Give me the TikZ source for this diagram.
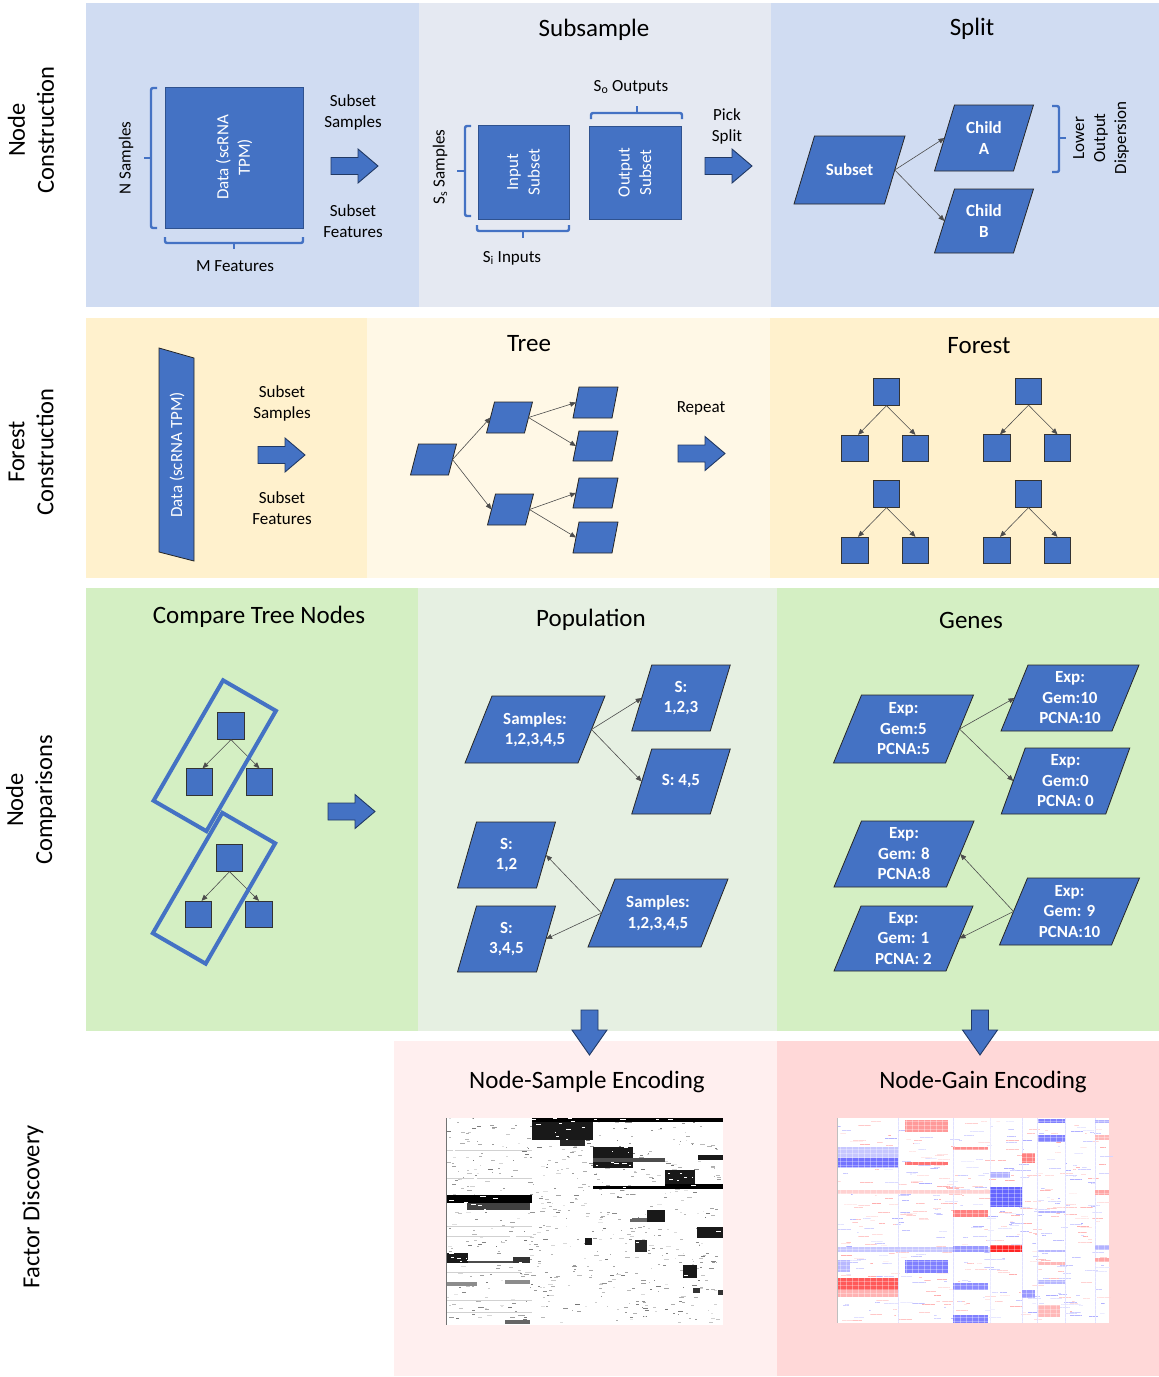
\documentclass[tikz,border=0pt]{standalone}
\usepackage{fontspec}
\setmainfont{Carlito}
\usetikzlibrary{arrows.meta}
\definecolor{nb}{HTML}{4472C4}
\definecolor{nbd}{HTML}{2F528F}
\definecolor{bgA}{HTML}{D0DCF2}
\definecolor{bgB}{HTML}{E5E9F2}
\definecolor{bgC}{HTML}{FFF1CD}
\definecolor{bgD}{HTML}{FFF8E6}
\definecolor{bgE}{HTML}{D4EFC3}
\definecolor{bgF}{HTML}{E6F0E2}
\definecolor{bgG}{HTML}{FFEFEF}
\definecolor{bgH}{HTML}{FFD8D8}
\tikzset{
 lbl/.style={font=\fontsize{17}{21}\selectfont, align=center, inner sep=0pt},
 ttl/.style={font=\fontsize{25}{29}\selectfont, inner sep=0pt},
 side/.style={font=\fontsize{24.5}{29}\selectfont, align=center, rotate=90, inner sep=0pt},
 pshape/.style={fill=nb, draw=black!85, line width=0.8pt},
 ptext/.style={text=white, font=\fontsize{17}{20.5}\selectfont\bfseries, align=center, inner sep=0pt},
 sq/.style={fill=nb, draw=nbd, line width=0.8pt, text=white, align=center, inner sep=0pt, font=\fontsize{17}{21.5}\selectfont},
 fsq/.style={fill=nb, draw=black!80, line width=0.8pt, minimum size=26.5pt, inner sep=0pt},
 conn/.style={draw=black!70, line width=0.6pt, -{Triangle[length=6pt,width=5pt]}},
 brk/.style={draw=nb, line width=2.4pt, rounded corners=2pt},
 barrow/.style={fill=nb, draw=nbd!70!black, line width=0.9pt},
 tilt/.style={draw=nb, line width=4pt, minimum width=61pt, minimum height=139pt, rotate=-30, inner sep=0pt},
 rarrow/.pic={\draw[barrow] (-47,-8.5) -- (-20,-8.5) -- (-20,-17) -- (0,0) -- (-20,17) -- (-20,8.5) -- (-47,8.5) -- cycle;},
 darrow/.pic={\draw[barrow] (-8.5,-45) -- (-8.5,-25) -- (-17.5,-25) -- (0,0) -- (17.5,-25) -- (8.5,-25) -- (8.5,-45) -- cycle;},
}
% name, cx, cy, w, h, slant, text
\newcommand{\pgram}[7]{%
  \draw[pshape] ({#2-#4/2+#6/2},{#3-#5/2}) -- ++(#4,0) -- ++({-#6},#5) -- ++({-#4},0) -- cycle;
  \coordinate (#1-l) at ({#2-#4/2},#3);
  \coordinate (#1-r) at ({#2+#4/2},#3);
  \node[ptext] (#1) at (#2,#3) {#7};
}
\begin{document}
\begin{tikzpicture}[x=1pt,y=-1pt]
\useasboundingbox (0,0) rectangle (1159,1377);
% ---------- backgrounds
\fill[bgA] (86,3) rectangle (419,307);
\fill[bgB] (419,3) rectangle (771,307);
\fill[bgA] (771,3) rectangle (1159,307);
\fill[bgC] (86,318) rectangle (367,578);
\fill[bgD] (367,318) rectangle (770,578);
\fill[bgC] (770,318) rectangle (1159,578);
\fill[bgE] (86,588) rectangle (418,1031);
\fill[bgF] (418,588) rectangle (777,1031);
\fill[bgE] (777,588) rectangle (1159,1031);
\fill[bgG] (394,1041) rectangle (777,1376);
\fill[bgH] (777,1041) rectangle (1159,1376);
% ---------- side labels
\node[side] (s1) at (31,130) {Node\\Construction};
\node[side] (s2) at (31,452) {Forest\\Construction};
\node[side] (s3) at (31,800) {Node\\Comparisons};
\node[side] (s4) at (33,1207) {Factor Discovery};
% ---------- row 1, panel 1
\node[sq, rotate=90, minimum width=141pt, minimum height=138pt] (data) at (234,157.5) {Data (scRNA\\TPM)};
\draw[brk] (157,88) -- (151,88) -- (151,228) -- (157,228);
\draw[brk] (151,158) -- (144,158);
\draw[brk] (165,237) -- (165,243) -- (303,243) -- (303,237);
\draw[brk] (234,243) -- (234,249);
\node[lbl, rotate=90] (nsam) at (126,158) {N Samples};
\node[lbl] (mfeat) at (235,266) {M Features};
\node[lbl] (ss1) at (353,112) {Subset\\Samples};
\node[lbl] (sf1) at (353,221) {Subset\\Features};
\pic at (378,166) {rarrow};
% ---------- row 1, panel 2
\node[ttl] (t1) at (594,30) {Subsample};
\node[sq, rotate=90, minimum width=94pt, minimum height=91pt] (insub) at (523.5,172) {Input\\Subset};
\node[sq, rotate=90, minimum width=93pt, minimum height=92pt] (outsub) at (635,172.5) {Output\\Subset};
\draw[brk] (471,126) -- (465,126) -- (465,216) -- (471,216);
\draw[brk] (465,171) -- (457,171);
\draw[brk] (477,225) -- (477,231) -- (569,231) -- (569,225);
\draw[brk] (523,231) -- (523,238);
\draw[brk] (591,119) -- (591,113) -- (682,113) -- (682,119);
\draw[brk] (637,113) -- (637,106);
\node[lbl] (sout) at (631,87) {S\textsubscript{o} Outputs};
\node[lbl, rotate=90] (ssam) at (440,167) {S\textsubscript{s} Samples};
\node[lbl] (sin) at (512,258) {S\textsubscript{i} Inputs};
\node[lbl] (pick) at (727,126) {Pick\\Split};
\pic at (752,166) {rarrow};
% ---------- row 1, panel 3
\node[ttl] (t2) at (972,29) {Split};
\pgram{sub}{849.5}{170}{90.5}{68}{20.5}{Subset}
\pgram{ca}{984}{138}{79}{66}{20}{Child\\A}
\pgram{cb}{984}{221}{79}{64}{20}{Child\\B}
\draw[conn] (sub-r) -- (ca-l);
\draw[conn] (sub-r) -- (cb-l);
\draw[brk] (1052,106) -- (1059,106) -- (1059,172) -- (1052,172);
\draw[brk] (1059,138) -- (1066,138);
\node[lbl, rotate=90] (lod) at (1101,138) {Lower\\Output\\Dispersion};
% ---------- row 2, panel 1
\draw[pshape] (159,348) -- (194,358) -- (194,561) -- (159,552) -- cycle;
\node[text=white, rotate=90, inner sep=0pt, font=\fontsize{17}{21}\selectfont] (data2) at (177,455) {Data (scRNA TPM)};
\node[lbl] (ss2) at (282,403.5) {Subset\\Samples};
\node[lbl] (sf2) at (282,508) {Subset\\Features};
\pic at (305,455) {rarrow};
% ---------- row 2, panel 2
\node[ttl] (t3) at (529,343.5) {Tree};
\pgram{tr}{433.5}{459.5}{38}{31}{8}{}
\pgram{tu}{509.5}{417.5}{38}{31}{8}{}
\pgram{td}{510.5}{509.5}{38}{31}{8}{}
\pgram{l1}{595.5}{402.5}{39}{31}{6}{}
\pgram{l2}{595.5}{446}{39}{30}{6}{}
\pgram{l3}{595.5}{493}{39}{30}{6}{}
\pgram{l4}{595.5}{537.5}{39}{31}{6}{}
\draw[conn] (tr-r) -- (tu-l);
\draw[conn] (tr-r) -- (td-l);
\draw[conn] (tu-r) -- (l1-l);
\draw[conn] (tu-r) -- (l2-l);
\draw[conn] (td-r) -- (l3-l);
\draw[conn] (td-r) -- (l4-l);
\node[lbl] (rep) at (701,408.5) {Repeat};
\pic at (725,453.5) {rarrow};
% ---------- row 2, panel 3
\node[ttl] (t4) at (979,345.5) {Forest};
\foreach \tx/\ty/\tn in {886.5/392/a, 1028.5/391.5/b, 886.5/494/c, 1028.5/494/d}{
  \node[fsq] (f\tn r) at (\tx,\ty) {};
  \node[fsq] (f\tn l) at ({\tx-31.5},{\ty+56.5}) {};
  \node[fsq] (f\tn g) at ({\tx+29},{\ty+56.5}) {};
  \draw[conn] (f\tn r.south) -- ([xshift=3pt]f\tn l.north);
  \draw[conn] (f\tn r.south) -- (f\tn g.north);
}
% ---------- row 3, panel 1
\node[ttl] (t5) at (259,617) {Compare Tree Nodes};
\node[fsq] (c1r) at (231,726) {};
\node[fsq] (c1l) at (199.5,782) {};
\node[fsq] (c1g) at (259.5,782) {};
\node[fsq] (c2r) at (229.5,858) {};
\node[fsq] (c2l) at (198.5,914.5) {};
\node[fsq] (c2g) at (259,914.5) {};
\draw[conn] (c1r.south) -- ([xshift=3pt]c1l.north);
\draw[conn] (c1r.south) -- (c1g.north);
\draw[conn] (c2r.south) -- ([xshift=3pt]c2l.north);
\draw[conn] (c2r.south) -- (c2g.north);
\node[tilt] (box1) at (214.75,755.75) {};
\node[tilt] (box2) at (214,888.25) {};
\pic at (375,811.5) {rarrow};
% ---------- row 3, panel 2
\node[ttl] (t6) at (591,620) {Population};
\pgram{pa}{535}{729.5}{113}{67}{27}{Samples:\\1,2,3,4,5}
\pgram{pb}{681}{698}{78.5}{66}{20}{S:\\1,2,3}
\pgram{pc}{681}{781.5}{78.5}{65}{20}{S: 4,5}
\pgram{pd}{506.5}{855}{79}{66}{19}{S:\\1,2}
\pgram{pe}{506.5}{939}{79}{66}{19}{S:\\3,4,5}
\pgram{pf}{658}{913}{113}{68}{27}{Samples:\\1,2,3,4,5}
\draw[conn] (pa-r) -- (pb-l);
\draw[conn] (pa-r) -- (pc-l);
\draw[conn] (pf-l) -- (pd-r);
\draw[conn] (pf-l) -- (pe-r);
% ---------- row 3, panel 3
\node[ttl] (t7) at (971,620) {Genes};
\pgram{ga}{903.5}{729}{112}{68}{28}{Exp:\\Gem:5\\PCNA:5}
\pgram{gb}{1070}{698}{111}{66}{27}{Exp:\\Gem:10\\PCNA:10}
\pgram{gc}{1065.5}{781}{104.5}{66}{24}{Exp:\\Gem:0\\PCNA: 0}
\pgram{gd}{904}{854}{112.5}{66}{27.5}{Exp:\\Gem: 8\\PCNA:8}
\pgram{ge}{903.5}{938.5}{112}{65}{27}{Exp:\\Gem: 1\\PCNA: 2}
\pgram{gf}{1069.5}{911.5}{112}{67}{28}{Exp:\\Gem: 9\\PCNA:10}
\draw[conn] (ga-r) -- (gb-l);
\draw[conn] (ga-r) -- (gc-l);
\draw[conn] (gf-l) -- (gd-r);
\draw[conn] (gf-l) -- (ge-r);
% ---------- down arrows
\pic at (589.5,1055) {darrow};
\pic at (980,1055) {darrow};
% ---------- row 4
\node[ttl] (t8) at (587,1082) {Node-Sample Encoding};
\node[ttl] (t9) at (983,1082) {Node-Gain Encoding};
% node-sample heatmap
\fill[white] (446,1118) rectangle (723,1325);
\pgfmathsetseed{11}
\foreach \k in {1,...,650}{
  \pgfmathsetmacro\rx{446+rnd*272}
  \pgfmathtruncatemacro\ry{1118+rnd*205}
  \pgfmathsetmacro\rl{1+rnd*4}
  \pgfmathtruncatemacro\rg{10+rnd*45}
  \fill[black!\rg] (\rx,\ry) rectangle ++(\rl,1);
}
\foreach \yy in {1150,1178,1226,1236,1272,1300,1312}{
  \fill[black!18] (446,\yy) rectangle (532,\yy+0.8);
}
\fill[black] (532,1118) rectangle (723,1121.5);
\fill[black!90] (532,1122) rectangle (593,1140);
\fill[black!85] (560,1140) rectangle (585,1146);
\fill[black!90] (593,1147) rectangle (633,1168);
\fill[black!70] (593,1158) rectangle (665,1162);
\fill[black] (593,1185.5) rectangle (665,1188.5);
\fill[black] (665,1184) rectangle (723,1189);
\fill[black!90] (665,1170) rectangle (695,1184);
\fill[black!90] (698,1155) rectangle (723,1160);
\fill[black] (446,1195) rectangle (532,1203);
\fill[black!75] (467,1203) rectangle (530,1210);
\fill[black!90] (647,1210) rectangle (665,1222);
\fill[black!60] (630,1218) rectangle (647,1222);
\fill[black!90] (697,1227) rectangle (723,1238);
\fill[black!90] (585,1238) rectangle (592,1245);
\fill[black!85] (635,1240) rectangle (647,1252);
\fill[black!90] (446,1253) rectangle (468,1263);
\fill[black!80] (513,1257) rectangle (530,1263);
\fill[black!70] (468,1261) rectangle (513,1262.5);
\fill[black!90] (683,1265) rectangle (697,1278);
\fill[black!80] (693,1288) rectangle (700,1293);
\fill[black!80] (718,1290) rectangle (723,1295);
\fill[black!45] (446,1282) rectangle (477,1286);
\fill[black!45] (505,1280) rectangle (530,1284);
\fill[black!60] (505,1320) rectangle (530,1324);
% white speckle over blocks
\pgfmathsetseed{23}
\foreach \k in {1,...,300}{
  \pgfmathsetmacro\rx{446+rnd*272}
  \pgfmathtruncatemacro\ry{1118+rnd*160}
  \pgfmathsetmacro\rl{1+rnd*5}
  \fill[white] (\rx,\ry) rectangle ++(\rl,0.9);
}
\draw[black!55, line width=0.8pt] (446,1118) -- (446,1325);
% node-gain heatmap
\fill[white] (837,1118) rectangle (1109,1323);
\pgfmathsetseed{5}
\foreach \k in {1,...,260}{
  \pgfmathsetmacro\rx{837+rnd*265}
  \pgfmathtruncatemacro\ry{1118+rnd*203}
  \pgfmathsetmacro\rl{2+rnd*12}
  \pgfmathtruncatemacro\rg{8+rnd*25}
  \fill[red!\rg] (\rx,\ry) rectangle ++(\rl,1);
}
\foreach \k in {1,...,260}{
  \pgfmathsetmacro\rx{837+rnd*265}
  \pgfmathtruncatemacro\ry{1118+rnd*203}
  \pgfmathsetmacro\rl{2+rnd*12}
  \pgfmathtruncatemacro\rg{8+rnd*25}
  \fill[blue!\rg] (\rx,\ry) rectangle ++(\rl,1);
}
\foreach \xx in {898,953,990,1022,1037,1065,1095}{
  \fill[blue!12] (\xx,1118) rectangle (\xx+1,1323);
}
\fill[blue!22] (837,1147) rectangle (898,1168);
\fill[blue!55] (837,1158) rectangle (898,1167);
\fill[red!40] (905,1120) rectangle (948,1132);
\fill[red!55] (905,1162) rectangle (948,1165);
\fill[red!45] (953,1147) rectangle (988,1150);
\fill[red!50] (1022,1153) rectangle (1035,1163);
\fill[blue!50] (1038,1119) rectangle (1065,1123);
\fill[blue!50] (1038,1135) rectangle (1065,1142);
\fill[blue!30] (990,1172) rectangle (1010,1178);
\fill[blue!60] (990,1187) rectangle (1022,1207);
\fill[red!50] (953,1210) rectangle (988,1217);
\fill[red!18] (837,1190) rectangle (990,1194);
\fill[blue!30] (1038,1211) rectangle (1065,1213);
\fill[blue!22] (837,1247) rectangle (990,1252);
\fill[blue!40] (953,1246) rectangle (988,1252);
\fill[red!85] (990,1245) rectangle (1022,1252);
\fill[blue!50] (905,1260) rectangle (948,1273);
\fill[red!65] (837,1278) rectangle (898,1290);
\fill[red!30] (837,1290) rectangle (898,1297);
\fill[blue!45] (953,1283) rectangle (988,1290);
\fill[blue!40] (1022,1290) rectangle (1035,1298);
\fill[blue!50] (953,1315) rectangle (988,1323);
\fill[red!28] (1038,1305) rectangle (1060,1317);
\fill[red!28] (1095,1135) rectangle (1109,1140);
\fill[blue!30] (1095,1120) rectangle (1109,1123);
\fill[red!35] (1095,1190) rectangle (1109,1195);
\fill[blue!30] (1095,1245) rectangle (1109,1250);
\fill[red!35] (1095,1258) rectangle (1109,1262);
\fill[blue!28] (1038,1250) rectangle (1065,1252);
\fill[blue!28] (1038,1280) rectangle (1065,1284);
\fill[red!28] (1038,1262) rectangle (1065,1265);
\fill[blue!28] (837,1260) rectangle (850,1272);
% texture grid
\foreach \xx in {840,846,...,1106}{
  \fill[white, opacity=0.35] (\xx,1118) rectangle (\xx+1.2,1323);
}
\foreach \yy in {1121,1125,...,1321}{
  \fill[white, opacity=0.3] (837,\yy) rectangle (1109,\yy+0.9);
}
\draw[black!25, line width=0.6pt] (837,1118) -- (837,1323);
\end{tikzpicture}
\end{document}
